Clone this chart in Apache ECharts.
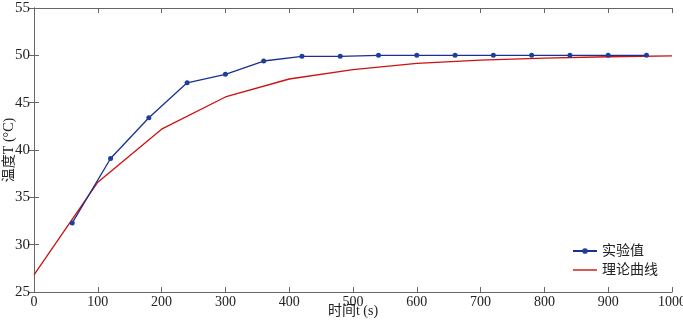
<!DOCTYPE html>
<html>
<head>
<meta charset="utf-8">
<script src="https://cdn.jsdelivr.net/npm/echarts@6/dist/echarts.min.js"></script>
<style>
  html, body { margin: 0; padding: 0; background: #fff; }
  #chart { width: 683px; height: 322px; }
</style>
</head>
<body>
<div id="chart"></div>
<script>
// measured data
let expTime = [60, 120, 180, 240, 300, 360, 420, 480, 540, 600, 660, 720, 780, 840, 900, 960];
let expTemp = [32.3, 39.1, 43.4, 47.1, 48.0, 49.4, 49.9, 49.9, 50.0, 50.0, 50.0, 50.0, 50.0, 50.0, 50.0, 50.0];
// theory curve
let theoryTime = [0, 100, 200, 300, 400, 500, 600, 700, 800, 900, 1000];
let theoryTemp = [26.8, 36.6, 42.2, 45.6, 47.5, 48.5, 49.15, 49.5, 49.7, 49.85, 49.95];

let serif = 'Liberation Serif, "Noto Sans CJK SC"';
let axisColor = '#666666';

var chart = echarts.init(document.getElementById('chart'));

let pairs = (xs, ys) => xs.map((x, i) => [x, ys[i]]);

let boxAxis = {
    axisLine: { show: true, lineStyle: { color: axisColor, width: 1 } },
    axisTick: { show: true, inside: true, length: 5, lineStyle: { color: axisColor } },
    splitLine: { show: false }
};

option = {
    backgroundColor: '#fff',
    animation: false,
    grid: { left: 34, right: 11, top: 8, bottom: 30, containLabel: false, outerBoundsMode: 'none' },
    legend: {
        orient: 'vertical',
        right: 20,
        top: 239,
        itemWidth: 24,
        itemHeight: 7,
        itemGap: 5,
        textStyle: { fontFamily: serif, fontSize: 14, color: '#222' },
        data: [
            { name: '实验值' },
            { name: '理论曲线', icon: 'path://M0,3 H24 V4.4 H0 Z' }
        ]
    },
    xAxis: [Object.assign({
        type: 'value',
        min: 0, max: 1000, interval: 100,
        position: 'bottom',
        name: '时间t (s)',
        nameLocation: 'middle',
        nameGap: 12,
        nameMoveOverlap: false,
        nameTextStyle: { fontFamily: serif, fontSize: 14, color: '#222' },
        axisLabel: { fontFamily: serif, fontSize: 14, color: '#222', margin: 3, formatter: v => String(v) }
    }, boxAxis), Object.assign({
        type: 'value',
        min: 0, max: 1000, interval: 100,
        position: 'top',
        axisLabel: { show: false }
    }, boxAxis)],
    yAxis: [Object.assign({
        type: 'value',
        min: 25, max: 55, interval: 5,
        position: 'left',
        name: '温度T (°C)',
        nameLocation: 'middle',
        nameRotate: 90,
        nameGap: 18,
        nameMoveOverlap: false,
        nameTextStyle: { fontFamily: serif, fontSize: 14, color: '#222' },
        axisLabel: { fontFamily: serif, fontSize: 15, color: '#222', margin: 4 }
    }, boxAxis), Object.assign({
        type: 'value',
        min: 25, max: 55, interval: 5,
        position: 'right',
        axisLabel: { show: false }
    }, boxAxis)],
    series: [{
        name: '实验值',
        type: 'line',
        data: pairs(expTime, expTemp),
        symbol: 'circle',
        symbolSize: 5,
        lineStyle: { color: '#1c2f8f', width: 1.3 },
        itemStyle: { color: '#1c3f99' },
        z: 3
    }, {
        name: '理论曲线',
        type: 'line',
        data: pairs(theoryTime, theoryTemp),
        symbol: 'none',
        lineStyle: { color: '#cc1111', width: 1.3 },
        itemStyle: { color: '#cc1111' },
        z: 2
    }]
};
chart.setOption(option);
</script>
</body>
</html>
